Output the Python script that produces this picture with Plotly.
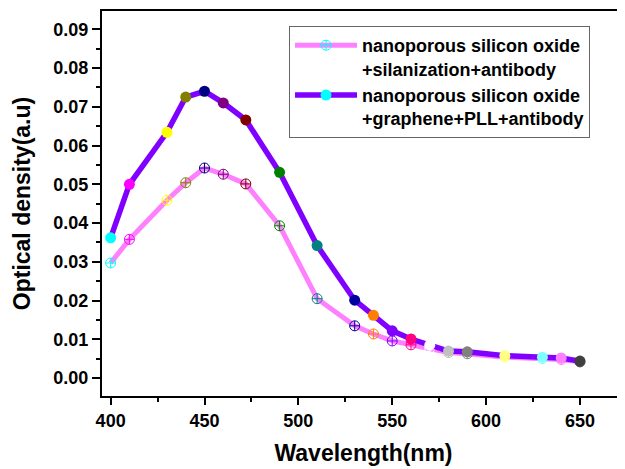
import plotly.graph_objects as go

# ---- data ----
wavelength = [400, 410, 430, 440, 450, 460, 472, 490, 510, 530, 540, 550, 560, 570, 580, 590, 610, 630, 640, 650]

od_silanization = [0.0297, 0.0358, 0.0459, 0.0504, 0.0542, 0.0526, 0.0501, 0.0393, 0.0205, 0.0135,
                   0.0114, 0.0096, 0.0086, 0.0077, 0.0066, 0.0063, 0.0054, 0.0050, 0.0048, 0.0042]
od_graphene = [0.0362, 0.0500, 0.0634, 0.0725, 0.0740, 0.0710, 0.0666, 0.0531, 0.0342, 0.0201,
               0.0162, 0.0122, 0.0101, 0.0085, 0.0070, 0.0068, 0.0058, 0.0054, 0.0052, 0.0044]

point_colors = ["#00FFFF", "#FF00FF", "#FFFF00", "#808000", "#000080", "#800080", "#800000", "#008000",
                "#008080", "#0000A0", "#FF8000", "#8000FF", "#FF0080", "#FFFFFF", "#C0C0C0", "#808080",
                "#FFFF80", "#80FFFF", "#FF80FF", "#404040"]

name_silanization = "<b>nanoporous silicon oxide<br>+silanization+antibody</b>"
name_graphene = "<b>nanoporous silicon oxide<br>+graphene+PLL+antibody</b>"

x_ticks = [400, 450, 500, 550, 600, 650]
y_ticks = [0.00, 0.01, 0.02, 0.03, 0.04, 0.05, 0.06, 0.07, 0.08, 0.09]

x_range = [395.4, 674]
y_range = [-0.0046, 0.0947]

FONT = "Liberation Sans, Arial, sans-serif"

fig = go.Figure()
fig.add_trace(go.Scatter(
    x=wavelength, y=od_silanization, name=name_silanization, mode="lines+markers",
    line=dict(color="#FF80FF", width=5),
    marker=dict(symbol="circle-cross-open", size=10, color=point_colors, line=dict(width=1)),
))
fig.add_trace(go.Scatter(
    x=wavelength, y=od_graphene, name=name_graphene, mode="lines+markers",
    line=dict(color="#8000FF", width=5.5),
    marker=dict(symbol="circle", size=11, color=point_colors, line=dict(width=0)),
))

tickfont = dict(family=FONT, size=18, color="black")
titlefont = dict(family=FONT, size=23, color="black")

fig.update_layout(
    width=617, height=461,
    margin=dict(l=94, r=0, t=3, b=73, autoexpand=False),
    paper_bgcolor="white", plot_bgcolor="white",
    showlegend=True,
    legend=dict(
        x=0.3576, y=0.961, xanchor="left", yanchor="top", valign="top",
        bgcolor="white", bordercolor="#666666", borderwidth=1,
        font=dict(family=FONT, size=18, color="black"),
        tracegroupgap=0, itemwidth=62,
        entrywidth=255, entrywidthmode="pixels",
    ),
    xaxis=dict(
        range=x_range, tickvals=x_ticks, ticktext=[f"<b>{v}</b>" for v in x_ticks],
        ticks="outside", ticklen=7, tickwidth=2, tickcolor="black",
        showline=True, linecolor="black", linewidth=2, mirror=True,
        showgrid=False, zeroline=False, tickfont=tickfont, automargin=False,
        minor=dict(dtick=25, tick0=400, ticks="outside", ticklen=4, tickwidth=2, tickcolor="black"),
        title=dict(text="<b>Wavelength(nm)</b>", font=titlefont, standoff=15),
    ),
    yaxis=dict(
        range=y_range, tickvals=y_ticks, ticktext=[f"<b>{v:.2f}</b>" for v in y_ticks],
        ticks="outside", ticklen=8, tickwidth=2, tickcolor="black",
        showline=True, linecolor="black", linewidth=2, mirror=True,
        showgrid=False, zeroline=False, tickfont=tickfont, automargin=False,
        minor=dict(dtick=0.005, tick0=0, ticks="outside", ticklen=4, tickwidth=2, tickcolor="black"),
        title=dict(text="<b>Optical density(a.u)</b>", font=titlefont, standoff=16),
    ),
    xaxis2=dict(
        overlaying="x", anchor="y", side="top", range=x_range, tickvals=x_ticks,
        showticklabels=False, ticks="inside", ticklen=6, tickwidth=2, tickcolor="black",
        showline=False, showgrid=False, zeroline=False, automargin=False,
        minor=dict(dtick=25, tick0=400, ticks="inside", ticklen=3, tickwidth=2, tickcolor="black"),
    ),
    yaxis2=dict(
        overlaying="y", anchor="x", side="right", range=y_range, tickvals=y_ticks,
        showticklabels=False, ticks="inside", ticklen=6, tickwidth=2, tickcolor="black",
        showline=False, showgrid=False, zeroline=False, automargin=False,
        minor=dict(dtick=0.005, tick0=0, ticks="inside", ticklen=3, tickwidth=2, tickcolor="black"),
    ),
)

fig.write_html("out.html")
